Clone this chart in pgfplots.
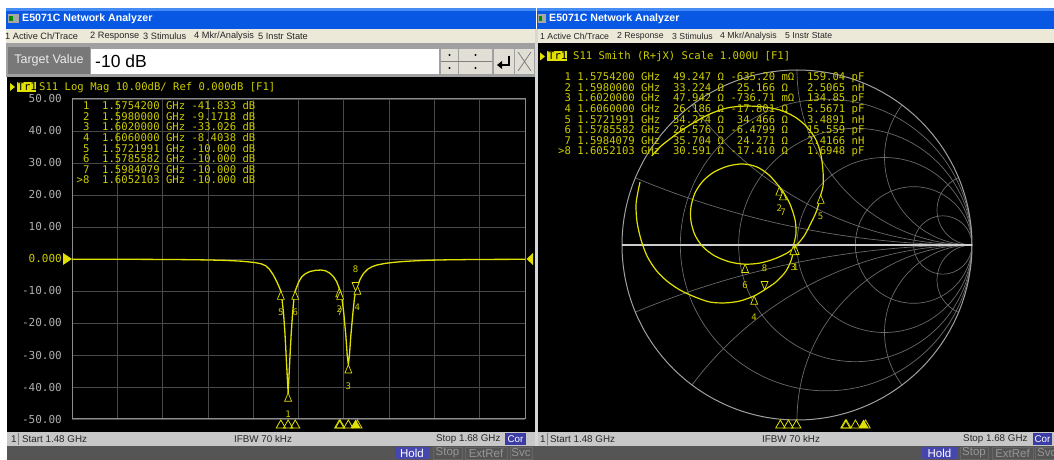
\documentclass[border=0pt]{standalone}
\usepackage{fontspec}
\setmainfont{Liberation Sans}
\newfontfamily\mono{DejaVu Sans Mono}
\usepackage{pgfplots}
\pgfplotsset{compat=1.18}
\definecolor{ylw}{RGB}{225,225,0}
\definecolor{ytxt}{RGB}{205,205,0}
\definecolor{gridc}{RGB}{72,72,72}
\definecolor{framec}{RGB}{140,140,140}
\definecolor{tickc}{RGB}{175,175,175}
\definecolor{xpblue}{RGB}{8,88,228}
\definecolor{xpblue2}{RGB}{70,140,245}
\definecolor{menubg}{RGB}{236,233,216}
\definecolor{tbgray}{RGB}{160,160,160}
\definecolor{tvgray}{RGB}{120,120,120}
\definecolor{btn}{RGB}{225,222,214}
\definecolor{statbg}{RGB}{200,200,200}
\definecolor{botbg}{RGB}{85,85,85}
\definecolor{corblue}{RGB}{60,60,165}
\definecolor{holdblue}{RGB}{70,70,175}
\definecolor{offtxt}{RGB}{150,150,150}
\definecolor{sepc}{RGB}{215,215,215}
\definecolor{smithc}{RGB}{105,105,105}
\definecolor{smitho}{RGB}{160,160,160}
\definecolor{realax}{RGB}{205,205,205}
\newcommand{\mf}[1]{\fontsize{#1}{#1}\selectfont}
\begin{document}
\begin{tikzpicture}[x=1pt,y=1pt]
\fill[white] (0,0) rectangle (1054,460);
% ---- window chrome
\fill[xpblue] (6,431) rectangle (536,452);
\fill[xpblue] (537,431) rectangle (1054,452);
\fill[xpblue2] (6,449) rectangle (536,452);
\fill[xpblue2] (537,449) rectangle (1054,452);
\fill[menubg] (6,417) rectangle (536,431);
\fill[menubg] (537,417) rectangle (1054,431);
\fill[tbgray] (6,383) rectangle (536,417);
\fill[black] (7,28) rectangle (535,383);
\fill[black] (538,28) rectangle (1054,417);
\fill[statbg] (7,14) rectangle (535,28);
\fill[statbg] (538,14) rectangle (1054,28);
\fill[botbg] (7,0) rectangle (1054,14);
\fill[sepc] (535,14) rectangle (538,431);
% icons + titles
\fill[gray!70] (8,437) rectangle (19,446);
\fill[green!55!black] (9,439) rectangle (13,444);
\fill[gray!70] (538,437) rectangle (546,446);
\fill[green!55!black] (539,439) rectangle (542,444);
\node[anchor=west,inner sep=0,white] at (22,441) {\mf{10.6}\bfseries E5071C Network Analyzer};
\node[anchor=west,inner sep=0,white] at (549,441) {\mf{10.6}\bfseries E5071C Network Analyzer};
% menus
\begin{scope}[every node/.style={anchor=west,inner sep=0,text=black!85}]
\node at (5,424) {\mf{9.2}1 Active Ch/Trace};
\node at (90,424) {\mf{9.2}2 Response};
\node at (143,424) {\mf{9.2}3 Stimulus};
\node at (194,424) {\mf{9.2}4 Mkr/Analysis};
\node at (258,424) {\mf{9.2}5 Instr State};
\node at (540,424) {\mf{8.7}1 Active Ch/Trace};
\node at (617,424) {\mf{8.7}2 Response};
\node at (672,424) {\mf{8.7}3 Stimulus};
\node at (720,424) {\mf{8.7}4 Mkr/Analysis};
\node at (785,424) {\mf{8.7}5 Instr State};
\end{scope}
% target value bar
\fill[tvgray] (8,386) rectangle (90,413);
\node[text=white!92!black] at (49,399.5) {\mf{12.5}Target Value};
\fill[white] (91,386) rectangle (439,411);
\node[anchor=west,inner sep=0] at (95,398.5) {\mf{17.5}-10 dB};
\fill[btn] (441,386) rectangle (458,411);
\fill[btn] (459,386) rectangle (492,411);
\draw[gray] (441,398.5) -- (492,398.5);
\fill[black] (449.5,405) circle (1.1) (449.5,392) circle (1.1) (475.5,405) circle (1.1) (475.5,392) circle (1.1);
\fill[btn] (494,386) rectangle (514,411);
\draw[black,line width=1.4] (509,404) -- (509,395) -- (500,395);
\fill[black] (497,395) -- (502,399) -- (502,391) -- cycle;
\fill[btn] (515,386) rectangle (534,411);
\draw[gray,line width=0.8] (518,389) -- (531,408) (518,408) -- (531,389);
% headers
\fill[ylw] (10,369) -- (15,373) -- (10,377) -- cycle;
\fill[ylw] (17,368) rectangle (36,378);
\node[anchor=base west,inner sep=0,text=black] at (17.5,369.5) {\mono\mf{10.6}Tr1};
\node[anchor=base west,inner sep=0,text=ytxt] at (39,369.5) {\mono\mf{10.6}S11 Log Mag 10.00dB/ Ref 0.000dB [F1]};
\fill[ylw] (540,399.5) -- (545,403.5) -- (540,407.5) -- cycle;
\fill[ylw] (547,398.5) rectangle (567,408.5);
\node[anchor=base west,inner sep=0,text=black] at (548,400) {\mono\mf{10.6}Tr1};
\node[anchor=base west,inner sep=0,text=ytxt] at (573,400) {\mono\mf{10.6}S11 Smith (R+jX) Scale 1.000U [F1]};
% ---- Smith chart grid
\begin{scope}
\clip (797,215) circle [radius=175];
\begin{scope}[smithc,line width=0.7]
\draw (826.17,215) circle [radius=145.83];
\draw (855.33,215) circle [radius=116.67];
\draw (884.5,215) circle [radius=87.5];
\draw (913.67,215) circle [radius=58.33];
\draw (942.83,215) circle [radius=29.17];
\draw (972,1090) circle [radius=875];
\draw (972,-660) circle [radius=875];
\draw (972,565) circle [radius=350];
\draw (972,-135) circle [radius=350];
\draw (972,390) circle [radius=175];
\draw (972,40) circle [radius=175];
\draw (972,302.5) circle [radius=87.5];
\draw (972,127.5) circle [radius=87.5];
\draw (972,250) circle [radius=35];
\draw (972,180) circle [radius=35];
\end{scope}
\end{scope}
\draw[smitho,line width=1] (797,215) circle [radius=175];
\draw[realax,line width=1.8] (622,215) -- (972,215);
% reference level triangles
\fill[ylw] (63,207) -- (72,201) -- (63,195) -- cycle;
\fill[ylw] (533,207) -- (526.5,201) -- (533,195) -- cycle;
% ---- Log Mag axis
\begin{axis}[
 at={(72pt,41pt)}, anchor=south west, scale only axis, width=453pt, height=320pt,
 xmin=1.48, xmax=1.68, ymin=-50, ymax=50,
 xtick={1.48,1.50,1.52,1.54,1.56,1.58,1.60,1.62,1.64,1.66,1.68}, xticklabels={},
 ytick={-50,-40,-30,-20,-10,0,10,20,30,40,50},
 yticklabels={-50.00,-40.00,-30.00,-20.00,-10.00,{\textcolor{ytxt}{0.000}},10.00,20.00,30.00,40.00,50.00},
 yticklabel style={font={\mono\mf{11}}, text=tickc, inner sep=0pt, xshift=-10pt},
 major tick length=0pt, tick style={draw=none},
 grid=major, major grid style={draw=gridc, line width=0.8pt},
 axis line style={draw=framec, line width=1pt},
 clip=false,
]
\addplot[ylw, line width=1.3pt, line join=round, no marks] coordinates {
(1.480,-0.05) (1.490,-0.07) (1.500,-0.09) (1.510,-0.11) (1.520,-0.14) (1.530,-0.20)
(1.540,-0.30) (1.548,-0.45) (1.554,-0.65) (1.558,-0.9) (1.561,-1.15) (1.5635,-1.5)
(1.5655,-2.1) (1.5672,-3.2) (1.5689,-5.0) (1.5705,-7.2) (1.5722,-10.0) (1.5727,-12.5)
(1.5734,-17) (1.5740,-23) (1.5746,-31) (1.57542,-41.833) (1.5762,-31) (1.5768,-23)
(1.5774,-17) (1.5780,-12.3) (1.57856,-10.0) (1.5800,-7.3) (1.5814,-5.6) (1.5830,-4.6)
(1.5851,-3.9) (1.5875,-3.55) (1.5900,-3.45) (1.5920,-3.7) (1.5940,-4.5) (1.5954,-5.5)
(1.5968,-7.0) (1.5980,-9.1718) (1.59841,-10.0) (1.5992,-12.5) (1.6000,-17) (1.6009,-24)
(1.6015,-30) (1.6020,-33.026) (1.6025,-30) (1.6031,-24) (1.6040,-17) (1.6047,-12.3)
(1.60521,-10.0) (1.6060,-8.4038) (1.6073,-6.2) (1.6086,-4.6) (1.6105,-3.2) (1.6125,-2.4)
(1.6145,-1.9) (1.6180,-1.4) (1.6220,-1.05) (1.6260,-0.8) (1.6320,-0.55) (1.6380,-0.38)
(1.6450,-0.27) (1.6550,-0.18) (1.6680,-0.12) (1.680,-0.1)
};
\addplot[only marks, mark=triangle*, mark size=4pt,
 mark options={draw=ylw, fill=black, line width=0.7pt, yshift=-5.6pt, yscale=1.4},
 point meta=explicit symbolic, nodes near coords,
 nodes near coords style={font={\mono\mf{9}}, text=ytxt, anchor=center, inner sep=0pt, yshift=-15.5pt}]
 coordinates {(1.57542,-41.833)[1] (1.598,-9.1718)[2] (1.602,-33.026)[3] (1.606,-8.4038)[4]
 (1.5721991,-10)[5] (1.5785582,-10)[6] (1.5984079,-10)[7]};
\addplot[only marks, mark=triangle*, mark size=4pt,
 mark options={draw=ylw, fill=black, line width=0.7pt, yshift=5.6pt, yscale=1.4, rotate=180},
 point meta=explicit symbolic, nodes near coords,
 nodes near coords style={font={\mono\mf{9}}, text=ytxt, anchor=center, inner sep=0pt, yshift=16pt}]
 coordinates {(1.6052103,-10)[8]};
\addplot[only marks, mark=triangle, mark size=5.3pt, mark options={draw=ylw, line width=0.8pt, yshift=-6.3pt}]
 coordinates {(1.5721991,-50) (1.57542,-50) (1.5785582,-50) (1.598,-50) (1.5984079,-50) (1.602,-50) (1.606,-50)};
\addplot[only marks, mark=triangle*, mark size=5.3pt, mark options={draw=ylw, fill=ylw, yshift=-6.3pt}]
 coordinates {(1.6052103,-50)};
\end{axis}
% ---- Smith trace axis
\begin{axis}[at={(622pt,40pt)}, anchor=south west, scale only axis, width=350pt, height=350pt,
 xmin=-1, xmax=1, ymin=-1, ymax=1, hide axis, clip=false]
\addplot[ylw, line width=1.2pt, smooth, no marks] coordinates {
(-0.830,0.509) (-0.783,0.560) (-0.726,0.606) (-0.657,0.657) (-0.583,0.703) (-0.497,0.749)
(-0.400,0.783) (-0.297,0.794) (-0.194,0.789) (-0.097,0.771) (-0.011,0.731) (0.057,0.674)
(0.109,0.600) (0.137,0.514) (0.149,0.417) (0.149,0.337) (0.1354,0.2858) (0.114,0.200)
(0.080,0.126) (0.040,0.051) (-0.0076,-0.0064)
(-0.057,-0.046) (-0.131,-0.080) (-0.211,-0.103) (-0.2966,-0.1097) (-0.383,-0.097)
(-0.469,-0.063) (-0.537,-0.011) (-0.583,0.057) (-0.606,0.137) (-0.606,0.217) (-0.583,0.297)
(-0.537,0.366) (-0.474,0.417) (-0.394,0.451) (-0.309,0.463) (-0.229,0.446) (-0.160,0.400)
(-0.1009,0.3329) (-0.0802,0.3059) (-0.040,0.234) (-0.011,0.143) (-0.006,0.063) (-0.0211,-0.0075)
(-0.029,-0.074) (-0.063,-0.149) (-0.120,-0.211) (-0.1855,-0.2561) (-0.2446,-0.2908)
(-0.326,-0.320) (-0.411,-0.331) (-0.497,-0.326) (-0.583,-0.297) (-0.669,-0.257)
(-0.743,-0.206) (-0.806,-0.143) (-0.857,-0.063) (-0.891,0.029) (-0.914,0.131)
(-0.920,0.229) (-0.909,0.303) (-0.897,0.360)
};
\addplot[only marks, mark=triangle*, mark size=4pt,
 mark options={draw=ylw, fill=black, line width=0.7pt, yshift=-5.6pt, yscale=1.4},
 point meta=explicit symbolic, nodes near coords,
 nodes near coords style={font={\mono\mf{9}}, text=ytxt, anchor=center, inner sep=0pt, yshift=-15.5pt}]
 coordinates {(-0.0076,-0.0064)[1] (-0.1009,0.3329)[2] (-0.0211,-0.0075)[3] (-0.2446,-0.2908)[4]
 (0.1354,0.2858)[5] (-0.2966,-0.1097)[6] (-0.0802,0.3059)[7]};
\addplot[only marks, mark=triangle*, mark size=4pt,
 mark options={draw=ylw, fill=black, line width=0.7pt, yshift=5.6pt, yscale=1.4, rotate=180},
 point meta=explicit symbolic, nodes near coords,
 nodes near coords style={font={\mono\mf{9}}, text=ytxt, anchor=center, inner sep=0pt, yshift=16pt}]
 coordinates {(-0.1855,-0.2561)[8]};
\end{axis}
% ---- stimulus marker indicators on the Smith panel
\begin{axis}[at={(548pt,41pt)}, anchor=south west, scale only axis, width=504pt, height=100pt,
 xmin=1.48, xmax=1.68, ymin=0, ymax=1, hide axis, clip=false]
\addplot[only marks, mark=triangle, mark size=5.3pt, mark options={draw=ylw, line width=0.8pt, yshift=-6.3pt}]
 coordinates {(1.5721991,0) (1.57542,0) (1.5785582,0) (1.598,0) (1.5984079,0) (1.602,0) (1.606,0)};
\addplot[only marks, mark=triangle*, mark size=5.3pt, mark options={draw=ylw, fill=ylw, yshift=-6.3pt}]
 coordinates {(1.6052103,0)};
\end{axis}
% ---- marker tables
\begin{scope}[every node/.style={anchor=base west,inner sep=0,text=ytxt,font={\mono\mf{10.6}}}]
\node at (76.5,350.1) {~1~~1.5754200~GHz~-41.833~dB};
\node at (76.5,339.5) {~2~~1.5980000~GHz~-9.1718~dB};
\node at (76.5,329.0) {~3~~1.6020000~GHz~-33.026~dB};
\node at (76.5,318.4) {~4~~1.6060000~GHz~-8.4038~dB};
\node at (76.5,307.8) {~5~~1.5721991~GHz~-10.000~dB};
\node at (76.5,297.3) {~6~~1.5785582~GHz~-10.000~dB};
\node at (76.5,286.7) {~7~~1.5984079~GHz~-10.000~dB};
\node at (76.5,276.1) {>8~~1.6052103~GHz~-10.000~dB};
\node at (558,379.1) {~1~1.5754200~GHz~~49.247~Ω~-635.20~mΩ~~159.04~pF};
\node at (558,368.5) {~2~1.5980000~GHz~~33.224~Ω~~25.166~Ω~~~2.5065~nH};
\node at (558,358.0) {~3~1.6020000~GHz~~47.942~Ω~-736.71~mΩ~~134.85~pF};
\node at (558,347.4) {~4~1.6060000~GHz~~26.186~Ω~-17.801~Ω~~~5.5671~pF};
\node at (558,336.8) {~5~1.5721991~GHz~~54.274~Ω~~34.466~Ω~~~3.4891~nH};
\node at (558,326.3) {~6~1.5785582~GHz~~26.576~Ω~-6.4799~Ω~~~15.559~pF};
\node at (558,315.7) {~7~1.5984079~GHz~~35.704~Ω~~24.271~Ω~~~2.4166~nH};
\node at (558,305.1) {>8~1.6052103~GHz~~30.591~Ω~-17.410~Ω~~~1.6948~pF};
\end{scope}
% ---- status bars
\begin{scope}[every node/.style={anchor=west,inner sep=0,text=black!85,font=\mf{9.8}}]
\node at (11,21) {1};
\node at (22,21) {Start 1.48 GHz};
\node at (234,21) {IFBW 70 kHz};
\node at (436,21) {Stop 1.68 GHz};
\node at (540,21) {1};
\node at (550,21) {Start 1.48 GHz};
\node at (762,21) {IFBW 70 kHz};
\node at (963,21) {Stop 1.68 GHz};
\end{scope}
\draw[gray] (18,15) -- (18,27);
\draw[gray] (547,15) -- (547,27);
\fill[corblue] (505,15) rectangle (526,27);
\node[white,inner sep=0] at (515.5,21) {\mf{9.8}Cor};
\fill[corblue] (1033,15) rectangle (1052,27);
\node[white,inner sep=0] at (1042.5,21) {\mf{9.8}Cor};
% ---- bottom bar
\fill[holdblue] (395,1) rectangle (429,13);
\node[white,inner sep=0] at (412,7) {\mf{11.5}Hold};
\draw[gray!80!black] (433,1) rectangle (462,13) (465,1) rectangle (507,13) (510,1) rectangle (532,13);
\node[offtxt,inner sep=0] at (447.5,7) {\mf{11.5}Stop};
\node[offtxt,inner sep=0] at (486,7) {\mf{11.5}ExtRef};
\node[offtxt,inner sep=0] at (521,7) {\mf{11.5}Svc};
\fill[holdblue] (922,1) rectangle (957,13);
\node[white,inner sep=0] at (939.5,7) {\mf{11.5}Hold};
\draw[gray!80!black] (960,1) rectangle (988,13) (992,1) rectangle (1033,13) (1035,1) rectangle (1058,13);
\node[offtxt,inner sep=0] at (974,7) {\mf{11.5}Stop};
\node[offtxt,inner sep=0] at (1012.5,7) {\mf{11.5}ExtRef};
\node[offtxt,anchor=west,inner sep=0] at (1037,7) {\mf{11.5}Svc};
\pgfresetboundingbox
\path[use as bounding box] (0,0) rectangle (1054,460);
\end{tikzpicture}
\end{document}
